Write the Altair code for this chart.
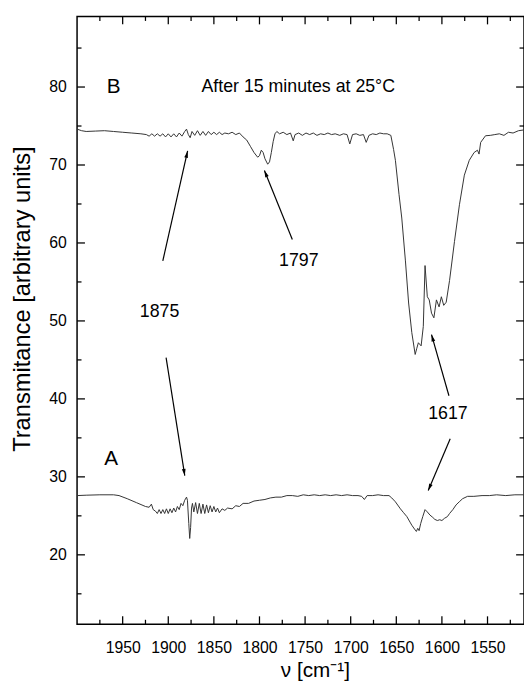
import math
import altair as alt
import pandas as pd

trace_b = [(2000, 74.6), (1995, 74.4), (1990, 74.3), (1980, 74.35), (1970, 74.4), (1960, 74.3),
           (1950, 74.2), (1940, 74.1), (1930, 74.0), (1924, 73.9), (1921, 73.7), (1918, 74.0),
           (1915, 73.7), (1912, 74.0), (1909, 73.7), (1906, 74.0), (1903, 73.6), (1900, 74.0),
           (1897, 73.6), (1894, 74.0), (1891, 73.6), (1888, 74.1), (1885, 73.7), (1882, 74.3),
           (1880, 74.6), (1878, 73.9), (1876, 73.5), (1874, 74.3), (1871, 73.8), (1868, 74.4),
           (1865, 73.8), (1862, 74.3), (1859, 73.8), (1856, 74.3), (1853, 73.9), (1850, 74.2),
           (1847, 73.9), (1844, 74.2), (1841, 73.9), (1838, 74.1), (1834, 74.0), (1830, 74.2),
           (1826, 73.9), (1822, 74.1), (1818, 73.6), (1814, 73.2), (1810, 72.4), (1806, 71.6),
           (1802, 71.0), (1800, 71.2), (1798, 71.9), (1796, 71.6), (1794, 70.8), (1791, 70.1),
           (1789, 70.4), (1787, 71.6), (1785, 73.0), (1783, 74.0), (1781, 74.3), (1778, 74.0),
           (1774, 74.2), (1770, 73.9), (1766, 74.1), (1763, 73.1), (1761, 73.9), (1757, 74.1),
           (1753, 73.8), (1749, 74.1), (1745, 73.9), (1741, 74.1), (1737, 73.8), (1733, 74.0),
           (1729, 73.9), (1725, 74.1), (1721, 73.9), (1717, 74.0), (1712, 73.8), (1708, 74.0),
           (1704, 73.9), (1701, 72.7), (1698, 73.9), (1694, 74.0), (1690, 73.8), (1686, 73.9),
           (1683, 72.9), (1680, 73.8), (1676, 74.0), (1672, 73.9), (1668, 74.1), (1664, 74.0),
           (1660, 74.0), (1656, 73.8), (1653, 72.0), (1651, 70.6), (1647, 66.2), (1644, 63.2),
           (1640, 57.7), (1636.5, 52.3), (1633, 48.5), (1629.3, 45.7), (1627.5, 46.5),
           (1625.8, 47.2), (1622.8, 46.8), (1620.4, 49.3), (1618.5, 57.1), (1616, 53.1),
           (1613.9, 52.7), (1611.4, 51.0), (1608.8, 50.4), (1606, 52.7), (1603.1, 51.8),
           (1600.6, 53.1), (1598, 52.0), (1595.3, 52.4), (1591.6, 55.2), (1586.2, 60.2),
           (1580.8, 64.9), (1575.4, 68.7), (1570, 70.6), (1564.7, 71.6), (1561, 71.9),
           (1559.3, 71.4), (1557.5, 72.9), (1552.2, 73.75), (1547, 73.8), (1542, 73.9),
           (1537, 74.0), (1532, 73.8), (1527, 74.2), (1522, 74.1), (1516, 74.4), (1510, 74.5)]

trace_a = [(2000, 27.6), (1990, 27.65), (1975, 27.7), (1960, 27.7), (1954, 27.6), (1945, 27.2),
           (1935, 26.7), (1925, 26.2), (1921, 26.1), (1918.5, 26.5), (1916.5, 25.8), (1914, 25.6),
           (1912, 25.3), (1910, 25.8), (1908, 25.3), (1906, 25.8), (1904, 25.3), (1902, 25.9),
           (1900, 25.3), (1898, 25.9), (1896, 25.4), (1894, 26.0), (1892, 25.5), (1890, 26.2),
           (1888, 25.8), (1886, 26.6), (1884, 26.3), (1882, 27.0), (1880, 27.4), (1879, 27.0),
           (1877.5, 24.0), (1876.5, 22.1), (1875.5, 23.5), (1874.5, 26.0), (1873.5, 26.6),
           (1872, 25.5), (1870, 26.7), (1868, 25.3), (1866, 26.6), (1864, 25.3), (1862, 26.5),
           (1860, 25.3), (1858, 26.4), (1856, 25.4), (1854, 26.3), (1852, 25.5), (1850, 26.2),
           (1848, 25.5), (1846, 26.0), (1844, 25.4), (1841, 25.9), (1838, 25.7), (1835, 26.0),
           (1830, 25.9), (1826, 26.3), (1822, 26.2), (1818, 26.6), (1812, 26.6), (1806, 26.9),
           (1800, 27.0), (1794, 27.1), (1788, 27.3), (1782, 27.4), (1776, 27.4), (1770, 27.6),
           (1764, 27.6), (1758, 27.5), (1752, 27.7), (1746, 27.6), (1740, 27.7), (1734, 27.6),
           (1728, 27.7), (1722, 27.6), (1716, 27.7), (1710, 27.6), (1704, 27.7), (1698, 27.6),
           (1692, 27.6), (1688, 27.5), (1685, 27.1), (1682, 27.6), (1676, 27.6), (1670, 27.7),
           (1664, 27.6), (1658, 27.6), (1655, 27.3), (1651, 26.8), (1645.5, 25.9), (1642, 25.4),
           (1638.4, 24.9), (1635, 24.2), (1633, 23.8), (1630, 23.3), (1628, 23.0), (1626.5, 23.4),
           (1625, 23.1), (1623.3, 24.0), (1621, 24.9), (1618.5, 25.8), (1616, 25.5),
           (1613.1, 25.1), (1610, 24.8), (1607.8, 24.55), (1605, 24.4), (1602.4, 24.5),
           (1600, 24.4), (1597, 24.7), (1594, 24.9), (1591.6, 25.3), (1588, 25.8), (1584.5, 26.4),
           (1581, 26.8), (1577.3, 27.2), (1571.9, 27.5), (1565, 27.5), (1556, 27.6), (1548, 27.6),
           (1540, 27.7), (1530, 27.6), (1520, 27.7), (1510, 27.7)]

letter_text = ["B", "A"]
letter_wn = [1959.8, 1962.7]
letter_val = [80.0, 32.25]

note_text = ["After 15 minutes at 25°C", "1875", "1797", "1617"]
note_wn = [1757.5, 1909.5, 1756.9, 1593.4]
note_val = [80.0, 51.1, 57.7, 38.0]

arrow_wn_from = [1906.0, 1902.4, 1764.0, 1592.3, 1590.9]
arrow_val_from = [57.7, 45.3, 60.45, 40.4, 34.9]
arrow_wn_to = [1878.8, 1881.9, 1794.6, 1611.4, 1615.0]
arrow_val_to = [71.8, 30.15, 69.3, 48.25, 28.25]

x_major = [1950, 1900, 1850, 1800, 1750, 1700, 1650, 1600, 1550]
x_minor = [1975, 1925, 1875, 1825, 1775, 1725, 1675, 1625, 1575, 1525]
y_major = [20, 30, 40, 50, 60, 70, 80]
y_minor = [15, 25, 35, 45, 55, 65, 75, 85]

W, H = 453, 616
X_DOM = [1510, 2000]
Y_DOM = [11.1, 89.05]
FONT = "Liberation Sans"
MAJ, MIN = 8, 4.5          # tick lengths in px
XU = (X_DOM[1] - X_DOM[0]) / W
YU = (Y_DOM[1] - Y_DOM[0]) / H

xscale = alt.Scale(domain=X_DOM, reverse=True, nice=False, zero=False)
yscale = alt.Scale(domain=Y_DOM, nice=False, zero=False)

xaxis = alt.Axis(values=x_major, ticks=False, domain=False, grid=False, format="d",
                 labelFontSize=16, labelPadding=16, labelColor="black",
                 title="ν [cm⁻¹]", titleFontSize=21, titleFontWeight="normal",
                 titleColor="black", titlePadding=4, titleX=241)
yaxis = alt.Axis(values=y_major, ticks=False, domain=False, grid=False, format="d",
                 labelFontSize=16, labelPadding=11, labelColor="black",
                 title="Transmitance [arbitrary units]", titleFontSize=24,
                 titleFontWeight="normal", titleColor="black",
                 titleX=-55, titleY=286, titleBaseline="middle")


def X(field):
    return alt.X(field, type="quantitative", scale=xscale, axis=xaxis)


def Y(field):
    return alt.Y(field, type="quantitative", scale=yscale, axis=yaxis)


df = pd.concat([
    pd.DataFrame(trace_b, columns=["wn", "val"]).assign(trace="B"),
    pd.DataFrame(trace_a, columns=["wn", "val"]).assign(trace="A"),
])

spectra = alt.Chart(df).mark_line(color="#333333", strokeWidth=1).encode(
    x=X("wn"), y=Y("val"), detail="trace:N", order=alt.Order("idx:Q")
).transform_window(idx="row_number()", groupby=["trace"])

# ---- inward ticks drawn as thin filled symbols centred half a tick inside the frame
V_MAJ = "M-0.16,-1L0.16,-1L0.16,1L-0.16,1Z"    # vertical bar, 8 px long at size 64
V_MIN = "M-0.28,-1L0.28,-1L0.28,1L-0.28,1Z"    # vertical bar, 4.5 px long at size 20
H_MAJ = "M-1,-0.16L1,-0.16L1,0.16L-1,0.16Z"
H_MIN = "M-1,-0.28L1,-0.28L1,0.28L-1,0.28Z"


def vt(values, length):
    rows = []
    for v in values:
        rows.append((v, Y_DOM[0] + length / 2 * YU))
        rows.append((v, Y_DOM[1] - length / 2 * YU))
    return pd.DataFrame(rows, columns=["wn", "val"])


def ht(values, length):
    rows = []
    for v in values:
        rows.append((X_DOM[1] - length / 2 * XU, v))
        rows.append((X_DOM[0] + length / 2 * XU, v))
    return pd.DataFrame(rows, columns=["wn", "val"])


def tick_layer(d, path, length):
    return alt.Chart(d).mark_point(filled=True, color="black", opacity=1, shape=path,
                                   size=length * length).encode(x=X("wn"), y=Y("val"))


tick_layers = [tick_layer(vt(x_major, MAJ), V_MAJ, MAJ),
               tick_layer(vt(x_minor, MIN), V_MIN, MIN),
               tick_layer(ht(y_major, MAJ), H_MAJ, MAJ),
               tick_layer(ht(y_minor, MIN), H_MIN, MIN)]

letters = alt.Chart(pd.DataFrame({"t": letter_text, "wn": letter_wn, "val": letter_val})).mark_text(
    fontSize=21, color="black", align="center", baseline="middle").encode(
    x=X("wn"), y=Y("val"), text="t:N")
notes = alt.Chart(pd.DataFrame({"t": note_text, "wn": note_wn, "val": note_val})).mark_text(
    fontSize=18, color="black", align="center", baseline="middle").encode(
    x=X("wn"), y=Y("val"), text="t:N")


def px(wn, val):
    return ((X_DOM[1] - wn) / XU, (Y_DOM[1] - val) / YU)


angles = []
for a, b, c, d in zip(arrow_wn_from, arrow_val_from, arrow_wn_to, arrow_val_to):
    x0, y0 = px(a, b)
    x1, y1 = px(c, d)
    angles.append(math.degrees(math.atan2(x1 - x0, -(y1 - y0))) % 360)

adf = pd.DataFrame({"wn": arrow_wn_from, "val": arrow_val_from,
                    "wn2": arrow_wn_to, "val2": arrow_val_to, "ang": angles})
shafts = alt.Chart(adf).mark_rule(color="black", strokeWidth=1.2).encode(
    x=X("wn"), y=Y("val"), x2="wn2:Q", y2="val2:Q")
heads = alt.Chart(adf).mark_point(
    filled=True, color="black", opacity=1, shape="M0,0L0.6,2.2L-0.6,2.2Z").encode(
    x=X("wn2"), y=Y("val2"), angle=alt.Angle("ang:Q", scale=None), size=alt.value(40))

chart = alt.layer(spectra, shafts, heads, letters, notes, *tick_layers).properties(
    width=W, height=H,
    padding={"left": 70, "top": 4, "right": 0, "bottom": 56},
    autosize=alt.AutoSizeParams(type="none"),
).configure(font=FONT).configure_view(stroke="black", strokeWidth=1.5)

chart.save("out.html", embed_options={"renderer": "svg", "actions": False})
